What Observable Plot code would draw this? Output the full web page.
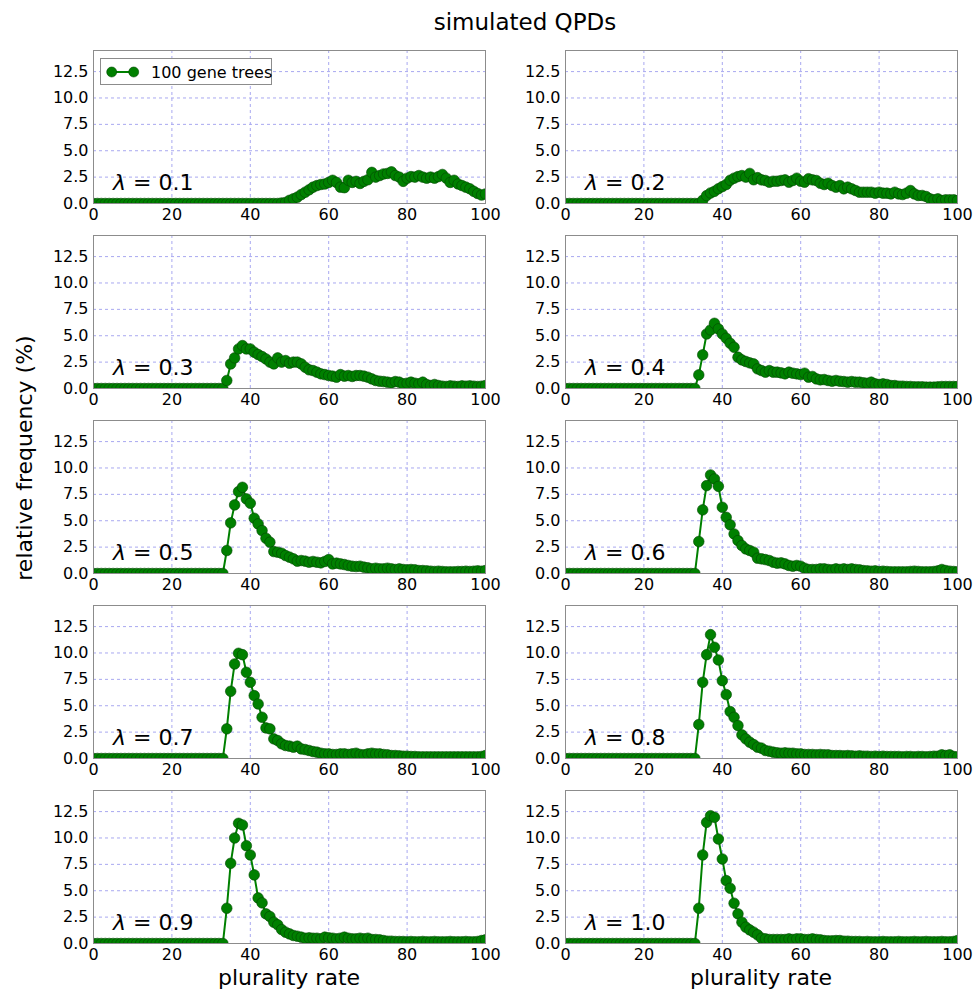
<!DOCTYPE html>
<html>
<head>
<meta charset="utf-8">
<script src="https://cdn.jsdelivr.net/npm/d3@7"></script>
<script src="https://cdn.jsdelivr.net/npm/@observablehq/plot@0.6"></script>
<style>
  html, body { margin: 0; padding: 0; background: #fff; }
  #fig { position: relative; width: 974px; height: 992px; font-family: "DejaVu Sans", sans-serif; color: #000; }
  .panel { position: absolute; }
  .lbl { position: absolute; white-space: nowrap; font-family: "DejaVu Sans", sans-serif; }
</style>
</head>
<body>
<div id="fig"></div>
<script>
// ---------- data ----------
const title = "simulated QPDs";
const xLabel = "plurality rate";
const yLabel = "relative frequency (%)";
const legendLabel = "100 gene trees";
const lambdas = ["0.1", "0.2", "0.3", "0.4", "0.5", "0.6", "0.7", "0.8", "0.9", "1.0"];
const xTicks = [0, 20, 40, 60, 80, 100];
const yTicks = [0, 2.5, 5, 7.5, 10, 12.5];
const pluralityRate = [0,1,2,3,4,5,6,7,8,9,10,11,12,13,14,15,16,17,18,19,20,21,22,23,24,25,26,27,28,29,30,31,32,33,34,35,36,37,38,39,40,41,42,43,44,45,46,47,48,49,50,51,52,53,54,55,56,57,58,59,60,61,62,63,64,65,66,67,68,69,70,71,72,73,74,75,76,77,78,79,80,81,82,83,84,85,86,87,88,89,90,91,92,93,94,95,96,97,98,99,100];

// relative frequency (%) for plurality rate 0..100
const freq01 = [0,0,0,0,0,0,0,0,0,0, 0,0,0,0,0,0,0,0,0,0, 0,0,0,0,0,0,0,0,0,0, 0,0,0,0,0,0,0,0,0,0,
  0,0,0,0,0,0,0,0,0.05,0.1, 0.3,0.45,0.6,0.85,1.07,1.3,1.55,1.7,1.8,1.85,
  2.0,2.2,2.0,1.55,1.5,2.2,2.0,2.1,1.9,2.1, 2.25,2.95,2.5,2.65,2.8,2.85,3.0,2.65,2.5,2.1,
  2.4,2.55,2.5,2.65,2.5,2.4,2.5,2.4,2.55,2.75, 2.4,2.0,2.2,1.85,1.7,1.55,1.4,1.15,0.95,0.8, 0.9];
const freq02 = [0,0,0,0,0,0,0,0,0,0, 0,0,0,0,0,0,0,0,0,0, 0,0,0,0,0,0,0,0,0,0, 0,0,0,0,0,0.3,0.75,1.0,1.15,1.4,
  1.6,1.8,2.2,2.4,2.55,2.65,2.5,2.85,2.25,2.45, 2.24,2.18,2.02,2.11,2.11,2.18,2.24,2.02,2.18,2.4,
  2.11,2.02,2.35,2.24,2.18,1.92,1.8,1.92,1.7,1.55, 1.7,1.39,1.55,1.39,1.23,1.07,1.07,1.07,1.07,0.98,
  1.07,0.98,0.98,0.91,1.07,0.91,0.85,0.98,1.23,0.91, 0.76,0.76,0.66,0.44,0.35,0.44,0.28,0.35,0.35,0.35, 0.28];
const freq03 = [0,0,0,0,0,0,0,0,0,0, 0,0,0,0,0,0,0,0,0,0, 0,0,0,0,0,0,0,0,0,0, 0,0,0,0,0.76,2.33,2.9,3.75,4.07,3.75,
  3.75,3.44,3.22,3.03,2.8,2.5,2.33,2.9,2.5,2.65, 2.4,2.5,2.5,2.33,2.02,1.77,1.7,1.55,1.39,1.32,
  1.23,1.17,1.07,1.32,1.17,1.23,1.14,1.23,1.23,1.17, 1.07,0.91,0.76,0.69,0.66,0.6,0.54,0.66,0.6,0.44,
  0.5,0.6,0.5,0.44,0.6,0.38,0.28,0.38,0.28,0.22, 0.19,0.25,0.22,0.19,0.25,0.22,0.25,0.22,0.19,0.22, 0.28];
const freq04 = [0,0,0,0,0,0,0,0,0,0, 0,0,0,0,0,0,0,0,0,0, 0,0,0,0,0,0,0,0,0,0, 0,0,0,0,1.29,3.19,5.17,5.55,6.18,5.65,
  5.17,4.76,4.29,3.91,2.97,2.71,2.56,2.43,2.33,1.86, 1.7,1.55,1.7,1.55,1.55,1.48,1.39,1.55,1.45,1.39,
  1.32,1.45,1.07,1.14,0.91,0.82,0.85,0.76,0.69,0.76, 0.69,0.66,0.6,0.66,0.6,0.6,0.54,0.5,0.6,0.44,
  0.38,0.44,0.38,0.28,0.28,0.22,0.22,0.19,0.19,0.16, 0.16,0.16,0.13,0.13,0.13,0.16,0.19,0.19,0.19,0.19, 0.19];
const freq05 = [0,0,0,0,0,0,0,0,0,0, 0,0,0,0,0,0,0,0,0,0, 0,0,0,0,0,0,0,0,0,0, 0,0,0,0,2.18,4.8,6.5,7.76,8.17,7.07,
  6.66,5.24,4.7,4.07,3.34,2.97,2.08,2.02,1.92,1.7, 1.55,1.39,1.17,1.23,1.17,1.07,1.14,1.07,1.01,1.14,
  1.32,0.91,0.98,0.91,0.85,0.76,0.69,0.66,0.69,0.6, 0.54,0.44,0.5,0.44,0.44,0.5,0.44,0.38,0.44,0.38,
  0.35,0.38,0.35,0.28,0.28,0.25,0.22,0.19,0.22,0.19, 0.16,0.16,0.16,0.19,0.19,0.22,0.19,0.22,0.25,0.22, 0.28];
const freq06 = [0,0,0,0,0,0,0,0,0,0, 0,0,0,0,0,0,0,0,0,0, 0,0,0,0,0,0,0,0,0,0, 0,0,0,0,3.03,6.03,8.33,9.34,8.96,8.26,
  6.28,5.33,4.61,3.75,3.12,2.65,2.33,2.18,2.02,1.45, 1.39,1.32,1.23,1.07,0.98,1.01,0.91,0.76,0.69,0.76,
  0.69,0.5,0.38,0.38,0.38,0.44,0.44,0.38,0.35,0.44, 0.38,0.44,0.38,0.44,0.38,0.35,0.28,0.25,0.22,0.25,
  0.19,0.22,0.19,0.16,0.16,0.16,0.16,0.16,0.19,0.22, 0.19,0.16,0.16,0.16,0.19,0.25,0.38,0.28,0.22,0.19, 0.16];
const freq07 = [0,0,0,0,0,0,0,0,0,0, 0,0,0,0,0,0,0,0,0,0, 0,0,0,0,0,0,0,0,0,0, 0,0,0,0,2.81,6.37,8.96,9.97,9.84,8.17,
  7.22,5.96,5.17,3.91,2.9,2.81,1.86,1.7,1.39,1.23, 1.17,1.07,1.17,0.91,0.85,0.76,0.66,0.6,0.5,0.44,
  0.44,0.38,0.38,0.44,0.44,0.38,0.44,0.5,0.38,0.35, 0.44,0.5,0.44,0.44,0.38,0.35,0.28,0.28,0.25,0.22,
  0.22,0.19,0.19,0.16,0.16,0.16,0.16,0.16,0.16,0.16, 0.16,0.16,0.16,0.16,0.16,0.16,0.16,0.16,0.16,0.19, 0.28];
const freq08 = [0,0,0,0,0,0,0,0,0,0, 0,0,0,0,0,0,0,0,0,0, 0,0,0,0,0,0,0,0,0,0, 0,0,0,0,3.22,7.22,9.84,11.74,10.54,9.34,
  7.38,6.06,4.45,3.91,3.12,2.24,1.86,1.55,1.32,1.07, 0.98,0.76,0.69,0.6,0.54,0.5,0.54,0.5,0.5,0.44,
  0.44,0.38,0.38,0.38,0.35,0.38,0.35,0.35,0.28,0.28, 0.28,0.25,0.28,0.25,0.22,0.25,0.22,0.22,0.19,0.22,
  0.19,0.22,0.19,0.19,0.19,0.19,0.16,0.19,0.19,0.16, 0.19,0.19,0.16,0.19,0.22,0.22,0.35,0.28,0.35,0.19, 0.16];
const freq09 = [0,0,0,0,0,0,0,0,0,0, 0,0,0,0,0,0,0,0,0,0, 0,0,0,0,0,0,0,0,0,0, 0,0,0,0,3.34,7.6,10.0,11.39,11.23,9.27,
  8.39,6.5,4.32,3.85,2.81,2.56,2.02,1.77,1.32,1.07, 0.91,0.76,0.69,0.6,0.5,0.54,0.5,0.5,0.44,0.6,
  0.54,0.5,0.44,0.5,0.6,0.5,0.44,0.44,0.5,0.44, 0.5,0.38,0.38,0.35,0.28,0.22,0.22,0.19,0.19,0.19,
  0.16,0.19,0.16,0.16,0.19,0.16,0.16,0.19,0.16,0.16, 0.16,0.19,0.16,0.16,0.16,0.19,0.16,0.16,0.19,0.28, 0.35];
const freq10 = [0,0,0,0,0,0,0,0,0,0, 0,0,0,0,0,0,0,0,0,0, 0,0,0,0,0,0,0,0,0,0, 0,0,0,0,3.34,8.39,11.48,12.11,11.96,9.9,
  8.01,5.96,5.24,3.82,2.81,2.02,1.55,1.29,1.07,0.82, 0.5,0.44,0.38,0.38,0.38,0.38,0.38,0.44,0.38,0.44,
  0.44,0.38,0.38,0.44,0.38,0.35,0.28,0.25,0.25,0.28, 0.28,0.22,0.22,0.19,0.19,0.19,0.16,0.19,0.16,0.16,
  0.16,0.19,0.16,0.16,0.16,0.19,0.16,0.16,0.16,0.19, 0.16,0.16,0.19,0.16,0.16,0.16,0.19,0.16,0.16,0.19, 0.28];
const series = [freq01, freq02, freq03, freq04, freq05, freq06, freq07, freq08, freq09, freq10];

// ---------- layout ----------
const fig = document.getElementById("fig");
const plotW = 392, plotH = 153;
const colLeft = [93, 565];
const rowTop = [50, 235, 420, 605, 790];
const mL = 60, mR = 15, mT = 5, mB = 30;
const green = "#008000", edge = "#004600";
const gridColor = "#a8a8f0";
const tickFont = 16;

series.forEach((vals, i) => {
  const col = i % 2, row = Math.floor(i / 2);
  const data = pluralityRate.map((x, k) => ({x, y: vals[k]}));
  const svg = Plot.plot({
    width: plotW + mL + mR,
    height: plotH + mT + mB,
    marginLeft: mL, marginRight: mR, marginTop: mT, marginBottom: mB,
    style: {fontFamily: "DejaVu Sans, sans-serif", fontSize: tickFont + "px", color: "#000", background: "transparent", overflow: "visible"},
    x: {domain: [0, 100], ticks: xTicks, tickFormat: d => String(d), label: null},
    y: {domain: [0, 14.5], ticks: yTicks, tickFormat: d3.format(".1f"), label: null},
    marks: [
      Plot.gridX(xTicks, {stroke: gridColor, strokeOpacity: 1, strokeWidth: 1, strokeDasharray: "3,3"}),
      Plot.gridY(yTicks, {stroke: gridColor, strokeOpacity: 1, strokeWidth: 1, strokeDasharray: "3,3"}),
      Plot.line(data, {x: "x", y: "y", stroke: green, strokeWidth: 2, clip: "frame"}),
      Plot.dot(data, {x: "x", y: "y", r: 5.3, fill: green, stroke: edge, strokeWidth: 0.6, clip: "frame"}),
      Plot.frame({stroke: "#8c8c8c", strokeWidth: 1}),
      Plot.axisX(xTicks, {tickSize: 0, tickPadding: 5, fontSize: tickFont, label: null}),
      Plot.axisY(yTicks, {tickSize: 0, tickPadding: 5, fontSize: tickFont, label: null, tickFormat: d3.format(".1f")}),
      Plot.text([`λ = ${lambdas[i]}`], {x: () => 5, y: () => 1.3, text: d => d, textAnchor: "start", lineAnchor: "bottom", fontSize: 22, fill: "#000"})
    ]
  });
  svg.classList.add("panel");
  svg.style.left = (colLeft[col] - mL) + "px";
  svg.style.top = (rowTop[row] - mT) + "px";
  // italic lambda like mathtext
  d3.select(svg).selectAll("text").each(function() {
    const t = this.textContent;
    if (t.startsWith("λ")) {
      const el = d3.select(this);
      el.text(null);
      el.append("tspan").attr("font-style", "italic").text("λ");
      el.append("tspan").text(t.slice(1));
    }
  });
  fig.appendChild(svg);
});

// title
const tt = document.createElement("div");
tt.className = "lbl"; tt.textContent = title;
Object.assign(tt.style, {left: "525px", top: "22px", transform: "translate(-50%,-50%)", fontSize: "23px"});
fig.appendChild(tt);

// x labels
colLeft.forEach(cx => {
  const d = document.createElement("div");
  d.className = "lbl"; d.textContent = xLabel;
  Object.assign(d.style, {left: (cx + plotW / 2) + "px", top: "977px", transform: "translate(-50%,-50%)", fontSize: "22px"});
  fig.appendChild(d);
});

// y label
const yl = document.createElement("div");
yl.className = "lbl"; yl.textContent = yLabel;
Object.assign(yl.style, {left: "24px", top: "458px", transform: "translate(-50%,-50%) rotate(-90deg)", fontSize: "22px"});
fig.appendChild(yl);

// legend (first panel)
const lg = document.createElement("div");
Object.assign(lg.style, {position: "absolute", left: "100px", top: "58px", width: "172px", height: "27px", border: "1px solid #8c8c8c", background: "#fff", boxSizing: "border-box"});
lg.innerHTML = `<svg width="50" height="25" style="position:absolute;left:0;top:0">
  <line x1="10.7" y1="13" x2="32.7" y2="13" stroke="${green}" stroke-width="2"/>
  <circle cx="10.7" cy="13" r="5" fill="${green}" stroke="${edge}" stroke-width="0.6"/>
  <circle cx="32.7" cy="13" r="5" fill="${green}" stroke="${edge}" stroke-width="0.6"/>
</svg><span style="position:absolute;left:50px;top:50%;transform:translateY(-50%);font-size:16px;white-space:nowrap">${legendLabel}</span>`;
fig.appendChild(lg);
</script>
</body>
</html>
